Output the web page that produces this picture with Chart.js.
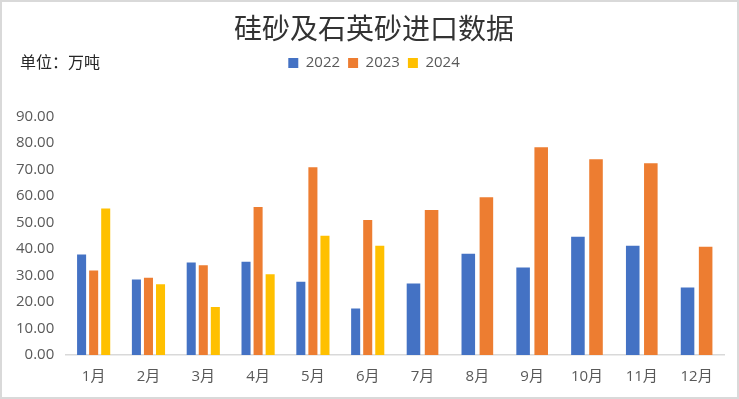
<!DOCTYPE html>
<html>
<head>
<meta charset="utf-8">
<script src="https://cdn.jsdelivr.net/npm/chart.js@4/dist/chart.umd.min.js"></script>
<style>
    body { margin: 0; background: #fff; }
    #wrap { position: relative; width: 739px; height: 399px; }
    #frame { position: absolute; left: 0; top: 0; width: 739px; height: 399px; box-sizing: border-box; border: 2px solid #d9d9d9; pointer-events: none; }
    #unit { position: absolute; left: 20px; top: 49px; font: 16px 'Noto Sans CJK SC', sans-serif; color: #262626; }
</style>
</head>
<body>
<div id="wrap">
    <canvas id="importChart" width="739" height="399"></canvas>
    <div id="unit">单位：万吨</div>
    <div id="frame"></div>
</div>
<script>
// --- Data ---
const months = ['1月', '2月', '3月', '4月', '5月', '6月', '7月', '8月', '9月', '10月', '11月', '12月'];
const values2022 = [37.9, 28.5, 34.9, 35.2, 27.7, 17.6, 27.0, 38.2, 33.0, 44.6, 41.2, 25.5];
const values2023 = [31.9, 29.2, 33.9, 55.9, 70.9, 51.0, 54.7, 59.6, 78.4, 73.9, 72.4, 40.9];
const values2024 = [55.3, 26.7, 18.1, 30.5, 45.0, 41.2, null, null, null, null, null, null];

const tickFont = { family: "'Open Sans', 'Noto Sans CJK SC', sans-serif", size: 15 };

// push the plot down a bit below the legend, and nudge title/legend right
const headerTweaks = {
    id: 'headerTweaks',
    beforeInit(chart) {
        const fit = chart.legend.fit;
        chart.legend.fit = function () {
            fit.bind(chart.legend)();
            this.height += 36;
        };
    },
    afterLayout(chart) {
        const shift = 10;
        [chart.titleBlock, chart.legend].forEach(b => {
            if (!b) return;
            b.left += shift;
            b.right += shift;
        });
    }
};

const ctx = document.getElementById('importChart').getContext('2d');
new Chart(ctx, {
    type: 'bar',
    data: {
        labels: months,
        datasets: [
            { label: '2022', data: values2022, backgroundColor: '#4472C4' },
            { label: '2023', data: values2023, backgroundColor: '#ED7D31' },
            { label: '2024', data: values2024, backgroundColor: '#FFC000' }
        ]
    },
    options: {
        responsive: false,
        animation: false,
        skipNull: true,
        categoryPercentage: 0.66,
        barPercentage: 0.75,
        layout: { padding: { top: 10, left: 4, right: 15, bottom: 0 } },
        plugins: {
            title: {
                display: true,
                text: '硅砂及石英砂进口数据',
                color: '#333333',
                font: { family: "'Noto Sans CJK SC', sans-serif", size: 28, weight: 'normal' },
                padding: { top: 2, bottom: 2 }
            },
            legend: {
                position: 'top',
                labels: {
                    boxWidth: 10,
                    boxHeight: 10,
                    padding: 8,
                    color: '#595959',
                    font: tickFont
                }
            },
            tooltip: { enabled: false }
        },
        scales: {
            x: {
                grid: { display: false, drawTicks: false },
                border: { display: true, color: '#d9d9d9', width: 1.5 },
                ticks: { color: '#595959', font: tickFont, padding: 13 }
            },
            y: {
                min: 0,
                max: 90,
                grid: { display: false, drawTicks: false },
                border: { display: false },
                ticks: {
                    stepSize: 10,
                    color: '#595959',
                    font: tickFont,
                    padding: 12,
                    callback: v => v.toFixed(2)
                }
            }
        }
    },
    plugins: [headerTweaks]
});
</script>
</body>
</html>
